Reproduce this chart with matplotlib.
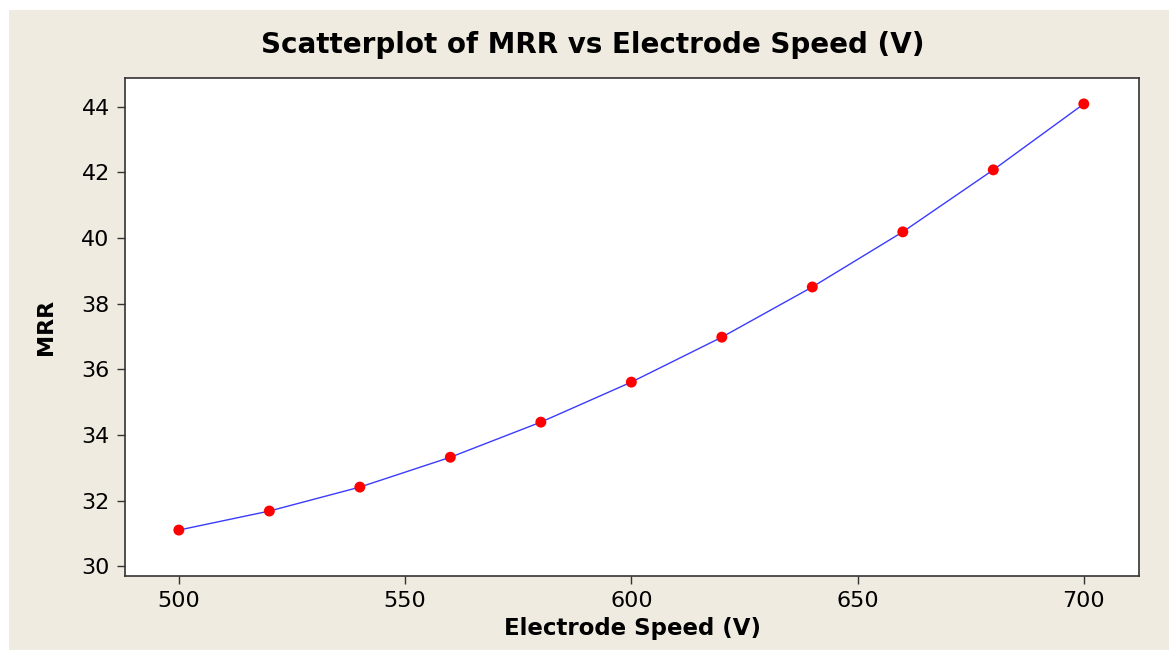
import numpy as np
import matplotlib.pyplot as plt
from matplotlib.patches import Rectangle

# Electrode speed vs MRR
speed = [500, 520, 540, 560, 580, 600, 620, 640, 660, 680, 700]
mrr = [31.10, 31.68, 32.41, 33.32, 34.39, 35.61, 36.98, 38.51, 40.19, 42.08, 44.09]
xticks = [500, 550, 600, 650, 700]
yticks = [30, 32, 34, 36, 38, 40, 42, 44]

bg = "#efebe1"

fig = plt.figure(figsize=(11.69, 6.5), dpi=100)
fig.patch.set_facecolor("white")
# beige panel, with a thin white strip on the left and top
fig.patches.append(Rectangle((9 / 1169, 0), 1, 1 - 10 / 650,
                             transform=fig.transFigure, facecolor=bg,
                             edgecolor="none", zorder=-10))

ax = fig.add_axes([125 / 1169, 1 - 576 / 650, (1139 - 125) / 1169, (576 - 78) / 650])
ax.set_facecolor("white")

ax.plot(speed, mrr, color="#3b3bff", linewidth=1.0, zorder=2)
ax.scatter(speed, mrr, color="red", s=62, zorder=3, edgecolors="none")

ax.set_xlim(488.1, 712.2)
ax.set_ylim(29.70, 44.88)
ax.set_xticks(xticks)
ax.set_yticks(yticks)

for s in ax.spines.values():
    s.set_color("#333333")
    s.set_linewidth(1.2)
ax.tick_params(direction="out", length=6, width=1, color="#333333",
               labelsize=16, pad=5)

fig.text(593 / 1169, 1 - 45 / 650, "Scatterplot of MRR vs Electrode Speed (V)",
         fontsize=20, fontweight="bold", ha="center", va="center")
ax.set_xlabel("Electrode Speed (V)", fontsize=16.5, fontweight="bold", labelpad=4)
ax.set_ylabel("MRR", fontsize=16, fontweight="bold", labelpad=18)

fig.savefig("out.png", dpi=100)
